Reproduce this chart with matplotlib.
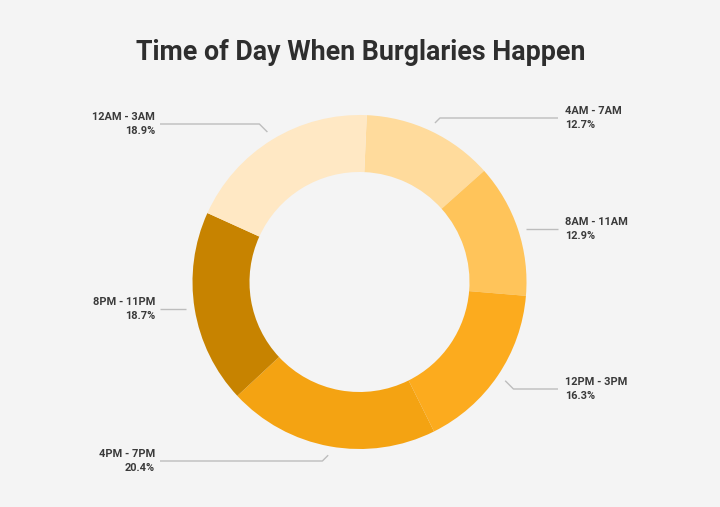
import matplotlib.pyplot as plt
import numpy as np

labels = ["4AM - 7AM", "8AM - 11AM", "12PM - 3PM", "4PM - 7PM", "8PM - 11PM", "12AM - 3AM"]
shares = [12.7, 12.9, 16.3, 20.4, 18.7, 18.9]
colors = ["#FFDB9C", "#FFC45A", "#FCAB1E", "#F4A312", "#C78300", "#FFE8C4"]

# label layout (pixels, measured from the top-left corner)
label_side = ["right", "right", "right", "left", "left", "left"]
label_y = [118, 229, 389, 461, 309, 124]

W, H = 720, 507
cx, cy = 359.5, 282
r_out, r_in = 167, 110

plt.rcParams['font.family'] = ['Roboto', 'DejaVu Sans']

fig = plt.figure(figsize=(W / 100, H / 100), dpi=100)
fig.patch.set_facecolor("#F4F4F4")
ax = fig.add_axes([0, 0, 1, 1])
ax.set_facecolor("#F4F4F4")

wedges, _ = ax.pie(shares, colors=colors, startangle=87.5, counterclock=False,
                   center=(cx, H - cy), radius=r_out,
                   wedgeprops=dict(width=r_out - r_in, linewidth=0))
ax.set_xlim(0, W)
ax.set_ylim(0, H)
ax.set_aspect("equal")
ax.axis("off")

# leader lines + labels
for w, lab, val, side, ly in zip(wedges, labels, shares, label_side, label_y):
    th = np.deg2rad((w.theta1 + w.theta2) / 2)
    r_tip = r_out + 9
    px = cx + r_tip * np.cos(th)
    py = (H - cy) + r_tip * np.sin(th)
    yl = H - ly
    d = abs(py - yl)
    if d < 3:
        py = yl
        d = 0
    if side == "right":
        ex, x_end, tx, ha = px + d, 558, 565, "left"
    else:
        ex, x_end, tx, ha = px - d, 160, 155, "right"
    ax.plot([px, ex, x_end], [py, yl, yl], color="#BDBDBD", lw=1, solid_capstyle="butt")
    ax.text(tx, yl, f"{lab}\n{val}%", ha=ha, va="center", multialignment=ha,
            fontsize=7.9, fontweight="bold", color="#3A3A3A", linespacing=1.4)

fig.text(361 / W, 1 - 60 / H, "Time of Day When Burglaries Happen", ha="center",
         va="baseline", fontsize=19.3, fontweight="bold", color="#2E2E2E")

fig.savefig("out.png", dpi=100, facecolor=fig.get_facecolor())
